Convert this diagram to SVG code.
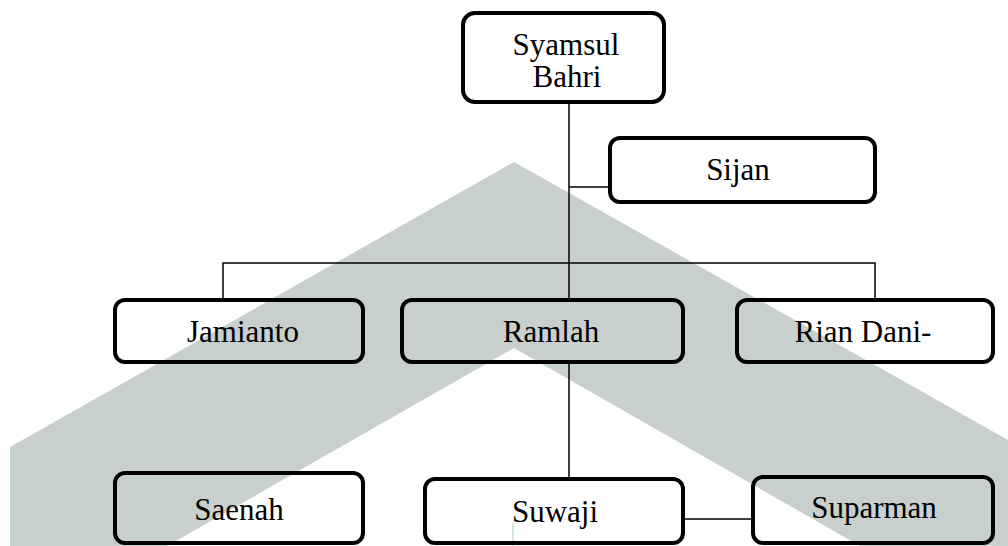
<svg xmlns="http://www.w3.org/2000/svg" width="1008" height="546" viewBox="0 0 1008 546">
<style>
.box{fill:none;stroke:#000;stroke-width:4;}
.lbl{font-family:"Liberation Serif","Times New Roman",serif;font-size:31px;fill:#000;text-anchor:middle;}
.con{fill:none;stroke:#000;stroke-width:1.5;}
</style>
<rect width="1008" height="546" fill="#fff"/>
<g id="watermark">
<polygon points="514,162 1008,440 1008,546 860,546 514,348 167,546 10,546 10,447" fill="#c7d0cc"/>
<line x1="513" y1="523" x2="513" y2="546" stroke="#cfe8d8" stroke-width="2"/>
</g>
<g id="connectors">
<line class="con" x1="569" y1="102" x2="569" y2="300"/>
<line class="con" x1="569" y1="187" x2="610" y2="187"/>
<polyline class="con" points="223,298 223,263 875,263 875,298"/>
<line class="con" x1="569" y1="362" x2="569" y2="479"/>
<line class="con" x1="683" y1="519" x2="753" y2="519"/>
</g>
<g id="syamsul">
<rect class="box" x="463" y="13" width="201" height="89" rx="12"/>
<text class="lbl" x="566" y="55">Syamsul</text>
<text class="lbl" x="567" y="87">Bahri</text>
</g>
<g id="sijan">
<rect class="box" x="610" y="138" width="265" height="64" rx="10"/>
<text class="lbl" x="738" y="180">Sijan</text>
</g>
<g id="jamianto">
<rect class="box" x="115" y="300" width="248" height="62" rx="10"/>
<text class="lbl" x="243" y="342">Jamianto</text>
</g>
<g id="ramlah">
<rect class="box" x="402" y="300" width="281" height="62" rx="10"/>
<text class="lbl" x="551" y="342">Ramlah</text>
</g>
<g id="rian">
<rect class="box" x="737" y="300" width="256" height="62" rx="10"/>
<text class="lbl" x="863" y="342">Rian Dani-</text>
</g>
<g id="saenah">
<rect class="box" x="115" y="473" width="248" height="70" rx="10"/>
<text class="lbl" x="239" y="520">Saenah</text>
</g>
<g id="suwaji">
<rect class="box" x="425" y="479" width="258" height="64" rx="10"/>
<text class="lbl" x="555" y="522">Suwaji</text>
</g>
<g id="suparman">
<rect class="box" x="753" y="477" width="240" height="66" rx="10"/>
<text class="lbl" x="874" y="518">Suparman</text>
</g>
</svg>
